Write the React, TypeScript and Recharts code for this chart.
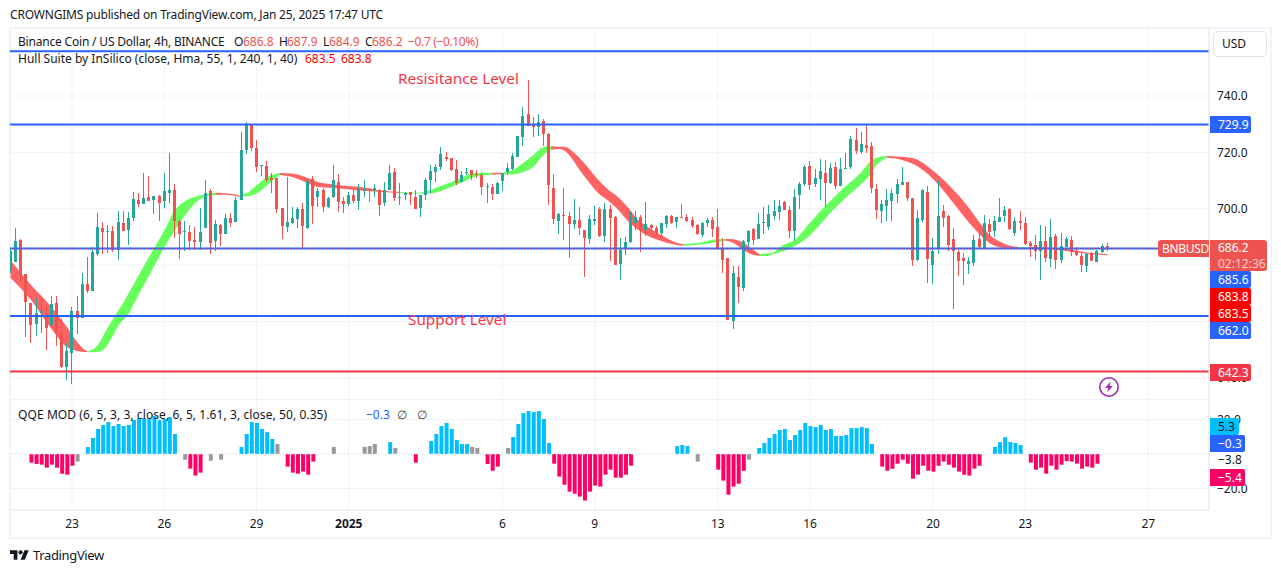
import React from 'react';
import { ComposedChart, Bar, Area, XAxis, YAxis, CartesianGrid, ReferenceLine, Cell } from 'recharts';

const FONT = '"Noto Sans", sans-serif';
const firstIndex = -12;
const opens = [678.0,681.0,688.9,676.9,666.6,659.1,663.0,662.3,658.8,666.6,
656.0,643.9,648.9,663.8,661.3,673.3,670.8,684.0,693.2,691.8,
692.1,685.4,695.0,692.5,696.7,703.1,701.7,704.2,703.1,704.5,
702.8,705.6,706.7,695.7,691.8,691.8,688.9,688.2,693.2,706.3,
688.6,694.3,691.1,696.7,695.3,703.1,720.9,730.1,721.6,715.2,
715.2,710.9,710.9,700.3,693.5,695.0,696.4,699.9,693.2,710.6,
704.2,706.7,700.6,704.2,709.5,702.8,701.7,704.9,702.8,706.3,
707.0,706.7,706.7,702.0,706.7,713.0,703.8,704.9,706.0,704.2,
700.3,704.9,710.2,713.2,714.8,718.4,717.9,714.1,709.5,712.8,
713.6,712.4,712.0,707.7,707.7,705.3,709.9,713.1,714.1,718.4,
725.5,733.6,730.1,729.0,731.1,726.5,707.4,695.7,697.8,697.4,
694.6,696.0,692.5,689.3,695.7,699.9,690.4,699.9,697.2,680.4,
685.6,688.2,695.0,697.1,692.5,694.3,693.2,691.4,694.6,697.4,
695.3,697.1,697.1,696.0,694.3,690.7,695.0,696.0,693.5,685.7,
682.6,660.2,675.8,671.9,688.2,692.8,689.3,695.0,693.5,697.4,
698.9,702.4,699.6,692.1,704.9,708.8,715.2,708.8,710.6,712.7,
709.2,714.8,708.1,714.1,714.8,724.4,720.1,722.6,722.3,707.0,
699.2,701.0,702.8,705.3,708.4,709.5,703.8,681.8,696.0,705.9,
680.1,685.7,699.2,697.4,689.3,684.7,682.5,680.4,680.8,689.3,
686.1,694.6,692.1,695.3,697.4,699.9,691.4,695.7,695.0,687.9,
687.2,685.0,688.6,682.2,690.4,681.8,686.5,688.9,684.7,683.3,
679.7,684.3,681.1,684.7,686.8];
const closes = [685.0,688.6,676.5,667.0,658.8,663.0,663.8,657.7,666.2,656.0,
643.9,649.6,663.8,661.3,673.3,670.8,684.7,693.5,691.8,692.1,
685.4,695.3,692.1,696.7,703.5,701.7,703.8,702.8,704.5,702.0,
706.3,706.7,695.7,691.1,692.1,688.6,688.2,691.8,705.6,687.9,
694.6,691.1,696.7,695.0,703.1,720.9,730.1,721.6,714.8,715.5,
710.2,710.2,699.9,693.9,695.3,696.7,699.9,693.9,709.9,701.0,
706.3,700.6,703.8,710.2,702.4,701.7,704.9,702.8,707.0,706.7,
706.7,707.4,701.3,706.7,712.7,703.8,704.2,705.6,704.9,699.9,
704.9,710.2,713.4,714.7,719.4,717.7,713.8,709.2,712.0,713.2,
712.0,712.0,707.8,708.1,705.3,709.2,712.6,714.6,718.7,725.8,
732.9,729.4,729.0,730.8,726.5,708.4,696.4,698.3,697.4,694.6,
696.0,693.2,689.7,696.4,696.4,690.4,699.9,696.7,680.1,685.4,
688.2,698.8,697.1,692.5,694.6,693.1,691.4,695.0,697.4,695.0,
697.1,696.7,695.7,693.9,691.1,695.0,696.0,692.8,685.7,681.9,
660.6,677.2,672.3,688.6,692.1,688.9,694.6,695.3,698.2,699.2,
701.0,699.6,692.1,704.2,708.8,714.8,708.4,710.9,713.4,709.2,
714.5,708.1,714.1,714.5,724.8,720.5,723.0,721.6,707.4,699.6,
701.7,703.1,705.6,708.8,709.5,703.8,681.8,696.7,706.7,682.2,
685.0,697.4,696.7,687.2,685.0,681.5,681.5,681.5,688.9,686.5,
695.0,691.8,695.7,697.1,699.6,692.8,695.7,695.0,687.5,686.8,
685.0,688.6,682.5,690.0,681.8,686.8,689.3,684.7,683.6,680.1,
683.9,681.5,685.0,686.8,686.2];
const highs = [686.0,693.2,689.3,676.9,666.6,668.4,668.0,665.9,669.1,669.1,
660.9,652.4,665.2,669.1,677.2,682.9,686.4,698.5,695.3,694.3,
693.9,699.2,699.2,698.9,706.0,705.6,712.7,711.6,704.5,704.9,
712.7,719.8,708.8,696.0,695.7,694.3,693.5,700.3,710.2,707.0,
696.0,694.6,698.2,698.5,704.2,727.2,730.8,730.1,724.4,715.5,
717.0,712.7,710.9,700.3,711.3,700.6,700.6,702.0,710.2,711.6,
707.4,707.4,704.2,715.5,712.3,704.2,706.0,706.7,708.8,710.2,
707.4,708.8,707.0,709.5,715.5,714.5,709.1,706.0,706.0,706.7,
704.9,710.9,715.5,715.9,721.8,720.0,718.0,717.3,713.4,714.6,
713.8,713.8,712.6,709.0,708.8,709.6,712.6,716.1,719.9,725.8,
736.2,745.7,732.4,733.6,731.9,726.8,712.3,698.4,707.4,698.9,
703.5,700.7,692.5,697.8,701.0,700.8,702.0,701.4,697.4,689.7,
690.1,699.0,699.2,697.8,702.4,694.6,693.9,695.0,697.8,697.8,
697.1,701.7,698.2,697.0,694.5,695.3,696.6,697.1,700.0,689.7,
682.6,679.7,679.7,689.0,692.5,693.2,698.5,700.6,701.3,703.1,
703.1,702.8,701.0,707.0,709.5,715.5,716.9,714.1,717.7,717.3,
716.2,716.6,718.0,719.8,725.8,728.7,727.2,730.1,723.7,708.8,
703.1,707.0,707.0,710.4,714.8,709.5,703.8,699.6,707.0,708.1,
689.6,710.2,701.4,697.8,693.2,685.4,684.2,682.9,690.7,692.5,
697.8,696.4,697.4,703.8,701.0,700.3,697.1,699.2,697.1,688.6,
690.7,694.3,693.9,696.4,691.1,691.4,690.0,690.4,686.5,684.3,
684.3,684.7,685.4,687.5,687.9];
const lows = [677.2,681.0,673.6,654.5,652.4,654.9,655.9,649.9,658.8,651.3,
643.5,639.3,637.9,655.6,661.3,670.1,670.8,683.3,684.0,684.3,
684.7,681.8,692.1,687.2,695.7,700.6,701.7,702.8,698.2,695.7,
700.3,702.0,689.6,682.2,685.0,685.4,685.4,685.4,693.2,684.0,
685.0,686.8,691.1,693.5,695.3,703.1,719.4,720.5,713.0,711.6,
709.5,705.6,698.5,689.3,691.8,694.6,693.2,686.1,692.8,694.6,
700.6,698.9,700.3,703.8,698.9,698.5,701.0,702.0,699.6,704.2,
702.4,704.2,697.4,701.0,706.7,702.8,701.3,703.1,701.3,699.9,
697.1,703.1,705.5,709.6,713.8,716.9,713.4,708.4,709.5,712.0,
710.2,710.8,704.9,702.2,703.1,705.3,706.4,712.0,713.8,718.4,
722.3,729.4,725.6,725.8,722.3,701.3,694.6,691.1,688.9,682.5,
692.8,690.7,675.8,687.5,694.3,690.1,688.3,681.5,680.1,674.8,
683.6,687.8,692.5,684.8,690.4,691.1,690.4,690.4,693.2,694.6,
693.2,696.7,695.3,693.2,690.7,690.0,693.6,690.0,685.4,677.2,
660.6,657.4,666.6,670.9,686.5,687.2,689.3,691.1,692.5,696.0,
696.0,699.6,689.6,688.6,699.9,708.1,706.7,707.7,703.1,700.6,
708.8,707.0,708.1,714.1,714.1,719.4,719.4,719.8,705.6,696.4,
695.0,695.7,695.7,701.9,708.4,702.8,679.7,681.5,695.3,673.7,
673.3,684.0,693.5,685.0,664.5,676.2,672.9,676.9,679.7,685.7,
685.7,690.7,690.0,695.3,695.3,692.5,690.4,692.5,687.2,682.9,
681.8,674.8,681.1,679.4,678.7,680.8,686.5,683.3,683.3,677.6,
677.6,681.5,681.1,684.3,684.9];

// Hull band: [bar index, upper, lower]
const hullBand: [number, number, number][] = [
[-12,681.8,675.5],[-8,673.0,667.7],[-4,665.2,657.4],[-1,658.1,651.0],[1,652.8,649.6],[2.5,649.9,649.2],[3,649.4,649.2],
[3.8,649.9,649.1],[5.1,651.9,649.3],[6.4,656.0,650.5],[7.7,660.0,654.1],[9,663.8,658.4],[11,669.9,662.7],[12.9,676.2,669.2],[15.5,684.4,677.9],[18.1,692.7,686.6],[20.1,699.6,692.5],[22.1,702.8,697.8],[24,704.3,702.0],[26,705.2,704.3],[28,705.7,704.9],
[30,705.5,705.0],[32.5,704.9,704.3],
[34.5,706.0,704.5],[36.5,709.1,706.0],[38.5,711.6,709.1],[40.5,712.7,712.0],
[43,712.5,711.3],[46,710.9,709.1],[48,709.5,707.7],[51,708.6,707.4],[57.5,707.4,706.3],[60.5,706.4,706.0],[64,706.0,705.6],
[66,705.7,705.4],[68,705.8,705.4],[70.5,707.0,705.6],[72.5,708.4,706.7],[75,710.2,708.4],[78.5,712.7,711.3],[82,712.8,712.1],
[84,712.8,712.3],
[86,713.8,712.2],[88,716.2,713.0],[90,719.1,714.8],[92,721.9,719.1],[93.5,722.3,720.9],
[94.9,722.0,721.2],[96.2,722.0,720.5],[97.5,720.6,717.9],[98.8,718.5,714.4],[100.8,714.4,709.6],[102.7,710.2,705.5],[104.7,706.7,702.8],[106.6,704.1,699.6],[108.6,700.2,695.4],[110.5,696.0,692.5],[112.5,693.4,690.3],[114.4,691.3,688.9],[116.4,689.2,687.8],[118.3,687.8,687.1],[119.3,687.5,686.9],
[122.5,688.0,687.3],[126,689.2,688.2],[127.5,689.3,688.7],
[129,689.2,688.0],[131,688.0,685.4],[133,685.4,683.6],[134.2,683.9,683.3],
[135.5,684.2,683.3],[136.2,684.2,683.6],[138.8,687.2,685.0],[141.4,689.5,687.2],[143.3,693.6,689.5],[145.9,699.0,694.3],[148.5,703.7,699.6],[151.2,708.4,704.3],[153.8,712.6,708.4],[155.7,716.7,712.0],[157,718.1,715.5],[159,718.7,718.1],
[161.6,718.5,717.5],[164.2,717.9,715.8],[166.8,715.3,712.6],[169.4,711.4,707.8],[172,706.7,702.0],[174.6,701.3,696.0],[177.2,694.9,690.7],[179.1,690.7,687.8],[181.1,688.3,686.3],[183,686.9,686.0],[184.6,686.5,686.1],
[186.5,686.5,686.2],
[191.5,686.2,685.6],[195.5,685.4,684.7],[198.5,684.4,684.0],[202,684.0,683.5],
];
// where the Hull trend flips; first entry is falling
const hullTurns = [-12,3,28,32.5,40.5,64,82,84,93.5,119.3,127.5,134.2,159,184.6,186.5,202];

const qqeBlue: [number, number][] = [[3,4],[4,9.3],[5,14.5],[6,16.8],[7,18.5],[8,16.2],[9,17.4],[10,16.2],[11,16.8],[12,19.7],[13,20.8],[14,20.8],[15,20.8],[16,22],[17,19.7],[18,20.3],[19,21.4],[20,11.6],
[33,4.1],[34,11.6],[35,18.5],[36,18],[37,14.5],[38,12.7],[39,8.7],[62,6.9],
[70,7.5],[71,11.6],[72,16.2],[73,18],[74,14.5],[75,8.1],[76,5.8],[77,5.8],
[86,9.8],[87,17.4],[88,23.7],[89,24.9],[90,24.3],[91,24.9],[92,20.3],[93,6.4],
[118,4.6],[119,5.2],[120,4.6],
[134,3.5],[135,6.4],[136,9.3],[137,11.6],[138,13.9],[139,14.5],[140,8.1],[141,11],[142,13.9],[143,18],[144,16.2],[145,15.6],[146,16.8],[147,13.9],[148,14.5],[149,10.4],[150,10.4],[151,11],[152,15],[153,15],[154,15.6],[155,15],[156,5.8],
[180,4.1],[181,6.9],[182,9.8],[183,6.9],[184,6.4],[185,5.2]];
const qqeRed: [number, number][] = [[-8,-5],[-7,-5.8],[-6,-6.2],[-5,-7.9],[-4,-6.2],[-3,-7.9],[-2,-11.4],[-1,-12],[0,-6.8],
[23,-8.5],[24,-12.5],[25,-10.8],[42,-7.3],[43,-10.8],[44,-11.4],[45,-10.2],[46,-12],[47,-4.4],[67,-5],
[81,-5.8],[82,-9.7],[83,-7.3],
[94,-5.6],[95,-13.1],[96,-17.8],[97,-21.8],[98,-23],[99,-24.7],[100,-27],[101,-21.8],[102,-18.3],[103,-18.9],[104,-12],[105,-9.1],[106,-13.7],[107,-13.7],[108,-12],[109,-6.8],
[126,-9.1],[127,-15.4],[128,-23.6],[129,-18.9],[130,-17.2],[131,-9.7],
[158,-7.3],[159,-9.7],[160,-8.5],[161,-5.6],[162,-3.3],[163,-5.6],[164,-14.3],[165,-12],[166,-6.8],[167,-9.7],[168,-10.2],[169,-6.8],[170,-4.4],[171,-6.2],[172,-7.9],[173,-10.2],[174,-12],[175,-12.5],[176,-8.5],[177,-6.8],
[187,-5],[188,-9.1],[189,-7.9],[190,-11.4],[191,-6.8],[192,-9.1],[193,-6.2],[194,-4.1],[195,-4.4],[196,-5.6],[197,-8.5],[198,-7.3],[199,-7.9],[200,-5.6]];
const qqeGrey: [number, number][] = [[1,-4.4],[22,-3.3],[27,-3.9],[29,-3.3],[40,5.8],[51,4.1],[57,4.1],[58,4.6],[59,5.8],[63,3.5],[78,4.1],[79,3.5],[85,3.5],[122,-4.4],[132,-3.3]];

const timeTicks = [0,18,36,54,84,102,126,144,168,186,210];
const timeLabels = ['23','26','29','2025','6','9','13','16','20','23','27'];
const priceGrid = [740,720,700,680,660,640];
const priceTicks = [740,720,700,640];

const UP = '#26a69a', DOWN = '#ef5350', BLUE = '#2962ff', GRID = '#f0f3fa', INK = '#131722';
const HULL_GREEN = '#66ff5c', HULL_RED = '#ff6363';

const candles = opens.map((o, k) => ({ i: firstIndex + k, o, c: closes[k], h: highs[k], l: lows[k] }));
const qqeRows = [
  ...qqeBlue.map(([i, v]) => ({ i, v, color: '#00bfff' })),
  ...qqeRed.map(([i, v]) => ({ i, v, color: '#ff0066' })),
  ...qqeGrey.map(([i, v]) => ({ i, v, color: '#999999' })),
].sort((a, b) => a.i - b.i);
const hullSegments = hullTurns.slice(0, -1).map((from, s) => ({
  from, color: s % 2 === 0 ? HULL_RED : HULL_GREEN,
  rows: hullBand.filter(([i]) => i >= from && i <= hullTurns[s + 1]).map(([i, hi, lo]) => ({ i, band: [lo, hi] })),
}));

const X_DOMAIN: [number, number] = [-12.1, 221.85];

function Candle(props: any) {
  const { x, y, width, height, payload } = props;
  const { o, c, h, l } = payload;
  const perUnit = height / (h - l);
  const top = y + (h - Math.max(o, c)) * perUnit;
  const bodyH = Math.max(1, Math.abs(o - c) * perUnit);
  const left = Math.round(x + width / 2 - 1.5);
  const col = c >= o ? UP : DOWN;
  return (
    <g shapeRendering="crispEdges">
      <rect x={left + 1} y={y} width={1} height={height} fill={col} />
      <rect x={left} y={top} width={3} height={bodyH} fill={col} />
    </g>
  );
}

function TimeTick(props: any) {
  const { x, y, payload } = props;
  const label = timeLabels[timeTicks.indexOf(payload.value)];
  return <text x={x} y={y + 10} textAnchor="middle" fontFamily={FONT} fontSize={12} fontWeight={label === '2025' ? 700 : 400} fill={INK}>{label}</text>;
}

function Txt({ x, y, color = INK, size = 12, ls = 0, children }: any) {
  return <div style={{ position: 'absolute', left: x, top: y - 10, height: 20, lineHeight: '20px', fontSize: size, color, whiteSpace: 'pre', letterSpacing: ls }}>{children}</div>;
}

function Tag({ x = 1210, y, w = 41, h = 17, bg, color = '#fff', children, radius = '0 2px 2px 0', pad = 8, ls = 0 }: any) {
  return <div style={{ position: 'absolute', left: x, top: y, width: w, height: h, lineHeight: h + 'px', background: bg, color, fontSize: 12, textAlign: 'left', paddingLeft: pad, boxSizing: 'border-box', borderRadius: radius, whiteSpace: 'pre', letterSpacing: ls }}>{children}</div>;
}

export default function App() {
  return (
    <div style={{ position: 'absolute', left: 0, top: 0, width: 1281, height: 573, background: '#fff', overflow: 'hidden', fontFamily: FONT }}>
      <div style={{ position: 'absolute', left: 9, top: 27, width: 1263, height: 512, border: '2px solid #f0f3fa', boxSizing: 'border-box' }} />
      <div style={{ position: 'absolute', left: 10, top: 399, width: 1199, height: 1, background: '#f0f3fa' }} />

      <div style={{ position: 'absolute', left: 0, top: 0 }}>
        <ComposedChart width={1281} height={400} data={candles} margin={{ top: 28, right: 0, bottom: 1, left: 10 }}>
          <CartesianGrid stroke={GRID} horizontalValues={priceGrid} verticalValues={timeTicks} />
          <XAxis dataKey="i" type="number" domain={X_DOMAIN} hide allowDataOverflow />
          <YAxis orientation="right" width={72} domain={[632.56, 764.11]} ticks={priceTicks} tickLine={false} interval={0}
            axisLine={{ stroke: '#e0e3eb' }} tickFormatter={(v: number) => v.toFixed(1)}
            tick={{ fill: INK, fontSize: 12, fontFamily: FONT }} allowDataOverflow />
          {hullSegments.map((s) => (
            <Area key={s.from} data={s.rows} dataKey="band" type="monotone" stroke="none" fill={s.color} fillOpacity={1} dot={false} activeDot={false} isAnimationActive={false} />
          ))}
          <Bar dataKey={(r: any) => [r.l, r.h]} barSize={3} shape={<Candle />} isAnimationActive={false} />
          <ReferenceLine y={755.9} stroke={BLUE} strokeWidth={2} />
          <ReferenceLine y={729.9} stroke={BLUE} strokeWidth={2} />
          <ReferenceLine y={685.9} stroke={BLUE} strokeWidth={2} />
          <ReferenceLine y={685.9} stroke={DOWN} strokeWidth={1} strokeDasharray="1 2" />
          <ReferenceLine y={662.0} stroke={BLUE} strokeWidth={2} />
          <ReferenceLine y={642.3} stroke="#f23645" strokeWidth={2} />
        </ComposedChart>
      </div>

      <div style={{ position: 'absolute', left: 0, top: 399 }}>
        <ComposedChart width={1281} height={139} data={qqeRows} margin={{ top: 1, right: 0, bottom: 0, left: 10 }}>
          <CartesianGrid stroke={GRID} horizontalValues={[20, -20]} verticalValues={timeTicks} />
          <XAxis dataKey="i" type="number" domain={X_DOMAIN} ticks={timeTicks} height={28} tickLine={false} interval={0}
            axisLine={{ stroke: '#e0e3eb' }} tick={<TimeTick />} allowDataOverflow />
          <YAxis orientation="right" width={72} domain={[-32.46, 31.3]} ticks={[20, -20]} tickLine={false} interval={0}
            axisLine={{ stroke: '#e0e3eb' }} tickFormatter={(v: number) => (v < 0 ? '\u2212' : '') + Math.abs(v).toFixed(1)}
            tick={{ fill: INK, fontSize: 12, fontFamily: FONT }} />
          <ReferenceLine y={0} stroke="#e0e3eb" strokeDasharray="2 2" />
          <Bar dataKey="v" barSize={4} isAnimationActive={false}>
            {qqeRows.map((r) => <Cell key={r.i} fill={r.color} />)}
          </Bar>
        </ComposedChart>
      </div>

      <Txt x={10} y={15} ls={-0.19}>CROWNGIMS published on TradingView.com, Jan 25, 2025 17:47 UTC</Txt>
      <Txt x={18} y={42} ls={-0.19}>Binance Coin / US Dollar, 4h, BINANCE</Txt>
      <Txt x={234} y={42}>O</Txt><Txt x={243} y={42} color={DOWN}>686.8</Txt>
      <Txt x={279} y={42}>H</Txt><Txt x={287} y={42} color={DOWN}>687.9</Txt>
      <Txt x={323} y={42}>L</Txt><Txt x={329} y={42} color={DOWN}>684.9</Txt>
      <Txt x={365} y={42}>C</Txt><Txt x={372} y={42} color={DOWN}>686.2</Txt>
      <Txt x={408} y={42} color={DOWN} ls={-0.35}>{'\u22120.7 (\u22120.10%)'}</Txt>
      <Txt x={18} y={59}>Hull Suite by InSilico (close, Hma, 55, 1, 240, 1, 40)</Txt>
      <Txt x={305} y={59} color="#ff0000">683.5</Txt><Txt x={341} y={59} color="#ff0000">683.8</Txt>
      <Txt x={18} y={415} ls={0.085}>QQE MOD (6, 5, 3, 3, close, 6, 5, 1.61, 3, close, 50, 0.35)</Txt>
      <Txt x={366} y={415} color={BLUE}>{'\u22120.3'}</Txt>
      <Txt x={397} y={415} color="#444">{'\u2205'}</Txt><Txt x={417} y={415} color="#444">{'\u2205'}</Txt>
      <Txt x={398} y={77.5} size={15.3} color="#f23645">Resisitance Level</Txt>
      <Txt x={408} y={319} size={15.3} color="#f23645">Support Level</Txt>

      <div style={{ position: 'absolute', left: 1213, top: 31, width: 54, height: 26, border: '1px solid #e0e3eb', borderRadius: 4, boxSizing: 'border-box', fontSize: 12, lineHeight: '24px', paddingLeft: 8, color: INK }}>USD</div>

      <Tag y={116} bg={BLUE}>729.9</Tag>
      <Tag x={1158} y={240} w={51} bg={DOWN} radius="3px 0 0 3px" pad={4} ls={-0.3}>BNBUSD</Tag>
      <div style={{ position: 'absolute', left: 1210, top: 240, width: 57, height: 31, background: DOWN, color: '#fff', fontSize: 12, paddingLeft: 8, boxSizing: 'border-box', borderRadius: '0 3px 3px 0' }}>
        <div style={{ lineHeight: '16px' }}>686.2</div>
        <div style={{ lineHeight: '15px', opacity: 0.7 }}>02:12:36</div>
      </div>
      <Tag y={271} bg={BLUE}>685.6</Tag>
      <Tag y={288} bg="#ff0000">683.8</Tag>
      <Tag y={305} bg="#ff0000">683.5</Tag>
      <Tag y={322} bg={BLUE}>662.0</Tag>
      <Tag y={364} bg="#f23645">642.3</Tag>

      <Tag y={418} w={29} bg="#00bfff" color={INK}>5.3</Tag>
      <Tag y={435} w={35} bg={BLUE}>{'\u22120.3'}</Tag>
      <Txt x={1218} y={460}>{'\u22123.8'}</Txt>
      <Tag y={469} w={35} bg="#ff0066">{'\u22125.4'}</Tag>

      <svg style={{ position: 'absolute', left: 1098, top: 376 }} width={22} height={22} viewBox="0 0 22 22">
        <circle cx={11} cy={11} r={9.2} fill="#fff" stroke="#9c27b0" strokeWidth={1.6} />
        <path d="M12.6 5.5 L7.2 12 H10.4 L9.2 16.5 L14.8 10 H11.6 Z" fill="#9c27b0" />
      </svg>
      <svg style={{ position: 'absolute', left: 10, top: 549 }} width={19} height={12} viewBox="0 3 36 20">
        <path d="M14 22H7V11H0V4h14v18zM28 22h-8l7.5-18h8L28 22z" fill={INK} /><circle cx={20} cy={8} r={4} fill={INK} />
      </svg>
      <Txt x={33} y={555} size={13} ls={-0.35}>TradingView</Txt>
    </div>
  );
}
